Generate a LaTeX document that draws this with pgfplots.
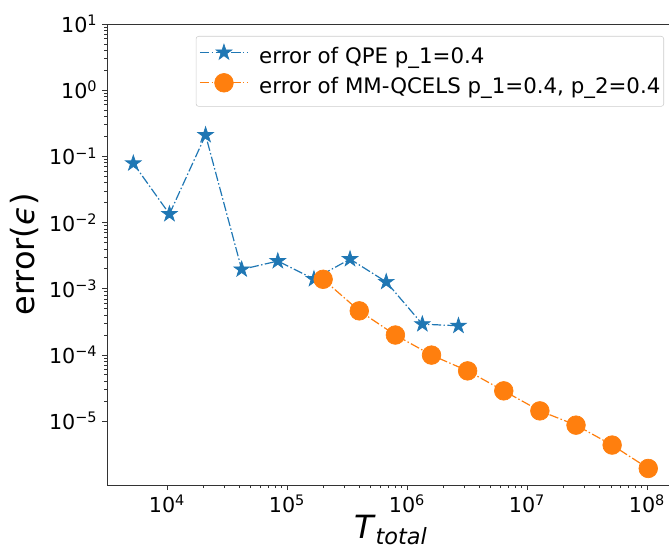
\documentclass[border=0pt]{standalone}
\usepackage{fontspec}
\setmainfont{DejaVu Sans}
\usepackage{pgfplots}
\pgfplotsset{compat=1.18}
\definecolor{tabblue}{HTML}{1F77B4}
\definecolor{taborange}{HTML}{FF7F0E}
\pgfdeclareplotmark{fstar}{%
 \pgfpathmoveto{\pgfpointpolar{90}{\pgfplotmarksize}}%
 \pgfpathlineto{\pgfpointpolar{126}{0.381*\pgfplotmarksize}}%
 \pgfpathlineto{\pgfpointpolar{162}{\pgfplotmarksize}}%
 \pgfpathlineto{\pgfpointpolar{198}{0.381*\pgfplotmarksize}}%
 \pgfpathlineto{\pgfpointpolar{234}{\pgfplotmarksize}}%
 \pgfpathlineto{\pgfpointpolar{270}{0.381*\pgfplotmarksize}}%
 \pgfpathlineto{\pgfpointpolar{306}{\pgfplotmarksize}}%
 \pgfpathlineto{\pgfpointpolar{342}{0.381*\pgfplotmarksize}}%
 \pgfpathlineto{\pgfpointpolar{18}{\pgfplotmarksize}}%
 \pgfpathlineto{\pgfpointpolar{54}{0.381*\pgfplotmarksize}}%
 \pgfpathclose
 \pgfusepathqfillstroke}
\begin{document}
\begin{tikzpicture}
\begin{axis}[
 name=ax,
 scale only axis, width=421.5pt, height=345.75pt,
 xmode=log, ymode=log,
 xmin=3162, xmax=1.525e8, ymin=1.084e-6, ymax=10,
 axis x line*=box, axis y line*=left,
 xtick pos=left, ytick pos=left,
 tick align=outside,
 major tick length=3.75pt, minor tick length=2.25pt,
 every tick/.style={black!80, line width=0.6pt},
 axis line style={black!80, line width=0.75pt},
 xtick={1e4,1e5,1e6,1e7,1e8},
 xticklabels={10\textsuperscript{4},10\textsuperscript{5},10\textsuperscript{6},10\textsuperscript{7},10\textsuperscript{8}},
 ytick={1e-5,1e-4,1e-3,1e-2,1e-1,1,10},
 yticklabels={10\textsuperscript{−5},10\textsuperscript{−4},10\textsuperscript{−3},10\textsuperscript{−2},10\textsuperscript{−1},10\textsuperscript{0},10\textsuperscript{1}},
 tick label style={font=\fontsize{15.5}{18}\selectfont},
 xlabel={\textit{T}\textsubscript{\textit{total}}},
 ylabel={error(\textit{ϵ})},
 label style={font=\fontsize{24}{28}\selectfont},
 xlabel style={at={(axis description cs:0.505,-0.097)}, anchor=center},
 ylabel style={at={(axis description cs:-0.146,0.5)}, anchor=center},
 legend style={at={(axis description cs:0.9911,0.974)}, anchor=north east,
   draw=black!20, fill=white, rounded corners=2pt,
   font=\fontsize{16}{18}\selectfont, inner xsep=2.5pt, inner ysep=6pt,
   row sep=4pt, column sep=8pt,
   nodes={inner sep=0pt, text height=11.5pt, text depth=3.5pt}},
 legend cell align=left,
 legend image code/.code={\draw[mark repeat=2,mark phase=2] plot coordinates {(0pt,4.2pt) (18pt,4.2pt) (36pt,4.2pt)};},
]
\addplot[tabblue, line width=0.9pt, dash pattern=on 7pt off 1.8pt on 1.1pt off 1.8pt,
  mark=fstar, mark size=6.2pt, mark options={solid, fill=tabblue, draw=tabblue, line width=0.5pt}]
 coordinates {
 (5240,0.0785) (10480,0.01345) (20960,0.210) (41900,1.96e-3) (83800,2.62e-3)
 (167700,1.40e-3) (335000,2.81e-3) (671000,1.27e-3) (1342000,2.92e-4) (2684000,2.76e-4)
 };
\addlegendentry{error of QPE p\_1=0.4}
\addplot[taborange, line width=0.9pt, dash pattern=on 7pt off 1.8pt on 1.1pt off 1.8pt,
  mark=*, mark size=7pt, mark options={solid, fill=taborange, draw=taborange, line width=0.5pt}]
 coordinates {
 (2.0e5,1.39e-3) (4.0e5,4.64e-4) (8.0e5,2.0e-4) (1.6e6,9.95e-5) (3.2e6,5.75e-5)
 (6.4e6,2.87e-5) (1.28e7,1.43e-5) (2.56e7,8.7e-6) (5.12e7,4.35e-6) (1.024e8,1.93e-6)
 };
\addlegendentry{error of MM-QCELS p\_1=0.4, p\_2=0.4}
\end{axis}
\pgfresetboundingbox
\path[use as bounding box] ([xshift=-80.25pt,yshift=-47.25pt]ax.south west) rectangle ([yshift=18pt]ax.north east);
\end{tikzpicture}
\end{document}
